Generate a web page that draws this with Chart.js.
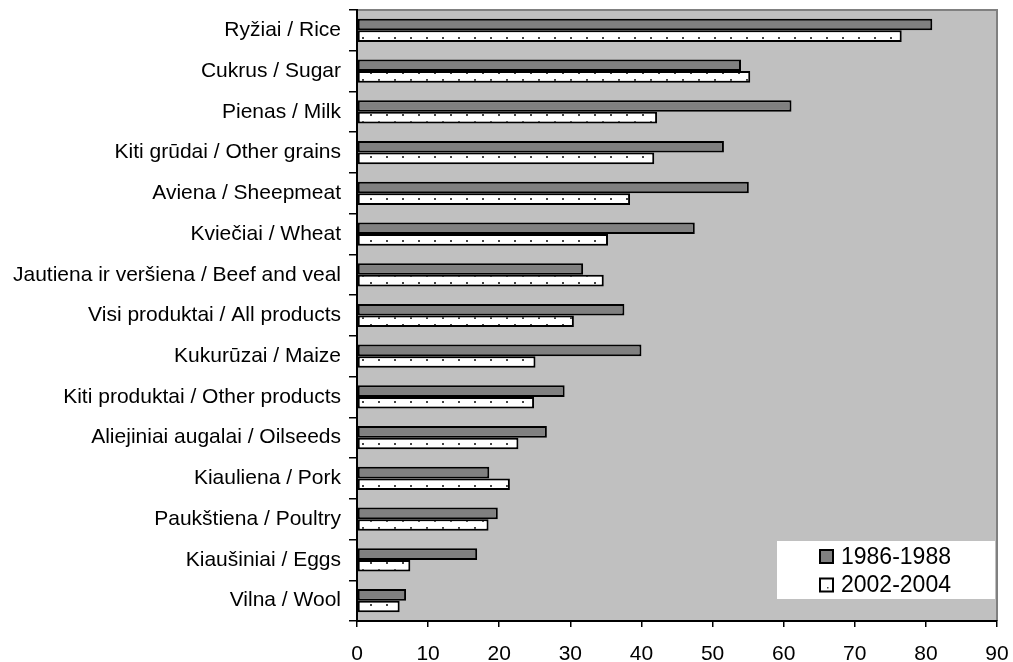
<!DOCTYPE html>
<html>
<head>
<meta charset="utf-8">
<script src="https://cdn.jsdelivr.net/npm/chart.js@4"></script>
<style>
  html, body { margin: 0; padding: 0; background: #fff; }
  #wrap { width: 1013px; height: 662px; position: relative; }
</style>
</head>
<body>
<div id="wrap"><canvas id="chart"></canvas></div>
<script>
// categories, top to bottom
const categories = [
  'Ryžiai / Rice',
  'Cukrus / Sugar',
  'Pienas / Milk',
  'Kiti grūdai / Other grains',
  'Aviena / Sheepmeat',
  'Kviečiai / Wheat',
  'Jautiena ir veršiena / Beef and veal',
  'Visi produktai / All products',
  'Kukurūzai / Maize',
  'Kiti produktai / Other products',
  'Aliejiniai augalai / Oilseeds',
  'Kiauliena / Pork',
  'Paukštiena / Poultry',
  'Kiaušiniai / Eggs',
  'Vilna / Wool'
];
const series1Label = '1986-1988';
const series2Label = '2002-2004';
const series1986 = [80.9, 54.0, 61.1, 51.6, 55.1, 47.5, 31.8, 37.6, 40.0, 29.2, 26.7, 18.6, 19.8, 16.9, 6.9];
const series2002 = [76.6, 55.3, 42.2, 41.8, 38.4, 35.3, 34.7, 30.5, 25.1, 24.9, 22.7, 21.5, 18.5, 7.5, 6.0];
const xMin = 0, xMax = 90, xStep = 10;

const FONT = "'Liberation Sans', Arial, sans-serif";

// white fill with small staggered dots
function dotPattern() {
  const c = document.createElement('canvas');
  c.width = 16; c.height = 14;
  const g = c.getContext('2d');
  g.fillStyle = '#fff';
  g.fillRect(0, 0, 16, 14);
  g.fillStyle = '#444';
  g.fillRect(2, 2, 2, 2);
  g.fillRect(10, 9, 2, 2);
  return g.createPattern(c, 'repeat');
}
const dots = dotPattern();

// grey plot area, grey top/right frame
const plotBg = {
  id: 'plotBg',
  beforeDraw(chart) {
    const { ctx, chartArea: a } = chart;
    ctx.save();
    ctx.fillStyle = '#c0c0c0';
    ctx.fillRect(a.left, a.top, a.right - a.left, a.bottom - a.top);
    ctx.strokeStyle = '#808080';
    ctx.lineWidth = 2;
    ctx.beginPath();
    ctx.moveTo(a.left, a.top);
    ctx.lineTo(a.right, a.top);
    ctx.lineTo(a.right, a.bottom);
    ctx.stroke();
    ctx.restore();
  }
};

// legend box in bottom-right corner of plot
const boxLegend = {
  id: 'boxLegend',
  afterDatasetsDraw(chart) {
    const { ctx, chartArea: a } = chart;
    const x0 = a.right - 220, y0 = a.bottom - 80;
    ctx.save();
    ctx.fillStyle = '#fff';
    ctx.fillRect(x0, y0, 218, 58);
    ctx.font = '23px ' + FONT;
    ctx.textBaseline = 'middle';
    chart.data.datasets.forEach((ds, i) => {
      const cy = y0 + 15.5 + i * 28.5;
      const mx = x0 + 42;
      ctx.fillStyle = i === 0 ? '#808080' : '#fff';
      ctx.fillRect(mx, cy - 7.5, 15, 15);
      ctx.strokeStyle = '#000';
      ctx.lineWidth = 2;
      ctx.strokeRect(mx + 1, cy - 6.5, 13, 13);
      if (i === 1) { ctx.fillStyle = '#444'; ctx.fillRect(mx + 8, cy + 2, 1.5, 1.5); }
      ctx.fillStyle = '#000';
      ctx.fillText(ds.label, x0 + 64, cy + 1);
    });
    ctx.restore();
  }
};

new Chart(document.getElementById('chart'), {
  type: 'bar',
  data: {
    labels: categories,
    datasets: [
      { label: series1Label, data: series1986, backgroundColor: '#808080', borderColor: '#000', borderWidth: 2, borderSkipped: false },
      { label: series2Label, data: series2002, backgroundColor: dots, borderColor: '#000', borderWidth: 2, borderSkipped: false }
    ]
  },
  options: {
    indexAxis: 'y',
    responsive: true,
    maintainAspectRatio: false,
    animation: false,
    categoryPercentage: 0.57,
    barPercentage: 1.0,
    layout: { padding: { top: 10, right: 16, left: 0, bottom: 0 } },
    plugins: {
      legend: { display: false },
      tooltip: { enabled: false }
    },
    scales: {
      x: {
        min: xMin, max: xMax,
        ticks: { stepSize: xStep, color: '#000', font: { family: FONT, size: 21 }, padding: 15, maxRotation: 0 },
        grid: { drawOnChartArea: false, color: '#000', tickLength: 6, lineWidth: 1.5 },
        border: { color: '#000', width: 2 },
        afterFit(s) { s.height = 41; s.paddingLeft = 0; s.paddingRight = 0; }
      },
      y: {
        ticks: { color: '#000', font: { family: FONT, size: 21 }, padding: 8, autoSkip: false },
        grid: { drawOnChartArea: false, offset: true, color: '#000', tickLength: 8, lineWidth: 1.5 },
        border: { color: '#000', width: 2 },
        afterFit(s) { s.width = 357; s.paddingTop = 0; s.paddingBottom = 0; }
      }
    }
  },
  plugins: [plotBg, boxLegend]
});
</script>
</body>
</html>
